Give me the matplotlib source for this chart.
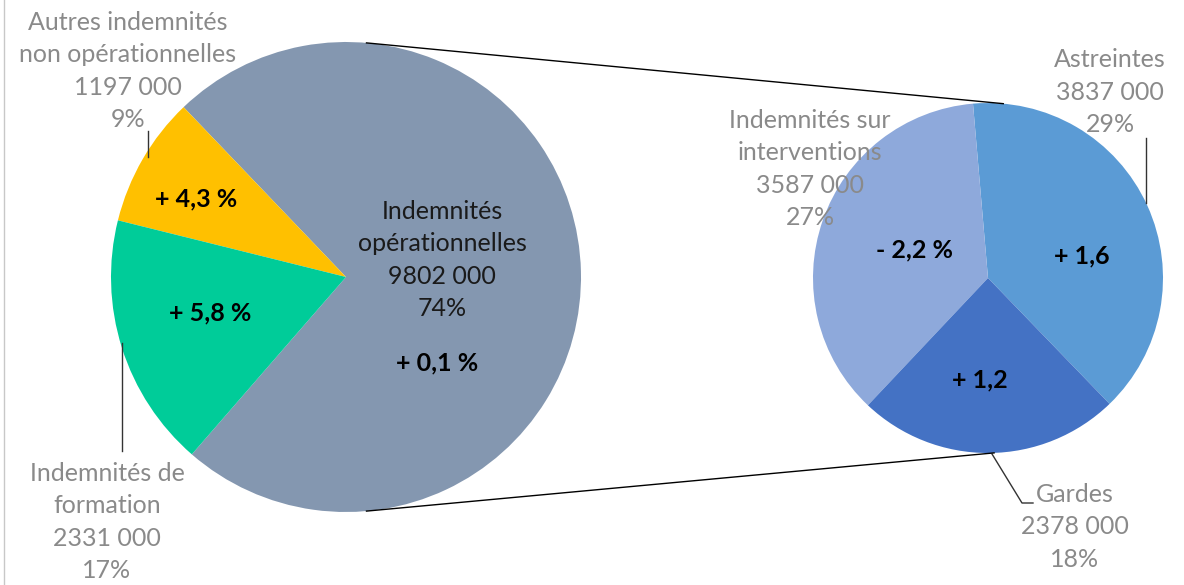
import numpy as np
import matplotlib.pyplot as plt

plt.rcParams['font.family'] = ['Lato', 'DejaVu Sans']

# Main pie
main_labels = ['Indemnités\nopérationnelles', 'Autres indemnités\nnon opérationnelles', 'Indemnités de\nformation']
main_values = [9802000, 1197000, 2331000]
main_changes = ['+ 0,1 %', '+ 4,3 %', '+ 5,8 %']
main_colors = ['#8497B0', '#FFC000', '#00CC99']

# Detail pie (breakdown of "Indemnités opérationnelles")
sub_labels = ['Astreintes', 'Indemnités sur\ninterventions', 'Gardes']
sub_values = [3837000, 3587000, 2378000]
sub_changes = ['+ 1,6', '- 2,2 %', '+ 1,2']
sub_colors = ['#5B9BD5', '#8EA9DB', '#4472C4']

W, H = 1184, 585
total = sum(main_values)


def fmt(v):
    return f"{v // 1000} {v % 1000:03d}"


def pct(v):
    return f"{round(100 * v / total)}%"


def py(y):
    # pixel y (from top) -> data y
    return H - y


fig = plt.figure(figsize=(W / 100, H / 100), dpi=100)
ax = fig.add_axes([0, 0, 1, 1])

c1, r1 = (346, py(277)), 235
c2, r2 = (988, py(278)), 175

ax.pie(main_values, colors=main_colors, startangle=-131, counterclock=True,
       center=c1, radius=r1, frame=True, wedgeprops=dict(linewidth=0))
ax.pie(sub_values, colors=sub_colors, startangle=-46, counterclock=True,
       center=c2, radius=r2, frame=True, wedgeprops=dict(linewidth=0))

# connector lines between the two pies
for a1, a2 in [(85, 85), (-85, -88)]:
    x1 = c1[0] + r1 * np.cos(np.radians(a1))
    y1 = c1[1] + r1 * np.sin(np.radians(a1))
    x2 = c2[0] + r2 * np.cos(np.radians(a2))
    y2 = c2[1] + r2 * np.sin(np.radians(a2))
    ax.plot([x1, x2], [y1, y2], color='black', lw=1, zorder=5)

grey = '#8a8a8a'
lab = dict(ha='center', va='center', fontsize=18, linespacing=1.5)

# main pie labels
ax.text(442, py(260), f"{main_labels[0]}\n{fmt(main_values[0])}\n{pct(main_values[0])}",
        color='#1a1a1a', **lab)
ax.text(128, py(71), f"{main_labels[1]}\n{fmt(main_values[1])}\n{pct(main_values[1])}",
        color=grey, **lab)
ax.text(107, py(522), f"{main_labels[2]}\n{fmt(main_values[2])}\n{pct(main_values[2])}",
        color=grey, **lab)

# detail pie labels
ax.text(1110, py(92), f"{sub_labels[0]}\n{fmt(sub_values[0])}\n{pct(sub_values[0])}",
        color=grey, **lab)
ax.text(810, py(169), f"{sub_labels[1]}\n{fmt(sub_values[1])}\n{pct(sub_values[1])}",
        color=grey, zorder=6, **lab)
ax.text(1075, py(527), f"{sub_labels[2]}\n{fmt(sub_values[2])}\n{pct(sub_values[2])}",
        color=grey, **lab)

# change annotations
bold = dict(ha='center', va='center', fontsize=18, fontweight='bold', color='black')
ax.text(437, py(363), main_changes[0], **bold)
ax.text(196, py(199), main_changes[1], **bold)
ax.text(210, py(313), main_changes[2], **bold)
ax.text(1082, py(256), sub_changes[0], **bold)
ax.text(914, py(250), sub_changes[1], **bold)
ax.text(980, py(380), sub_changes[2], **bold)

# leader lines
lk = dict(color='#333333', lw=1)
ax.plot([148, 148], [py(131), py(157)], **lk)
ax.plot([122, 122], [py(343), py(451)], **lk)
ax.plot([1146, 1146], [py(138), py(203)], **lk)
ax.plot([992, 1022, 1033], [py(454), py(503), py(503)], **lk)

# chart border on the left
ax.plot([4, 4], [0, H], color='#c8c8c8', lw=1)

ax.set_xlim(0, W)
ax.set_ylim(0, H)
ax.set_aspect('equal')
ax.axis('off')

fig.savefig('out.png', dpi=100)
